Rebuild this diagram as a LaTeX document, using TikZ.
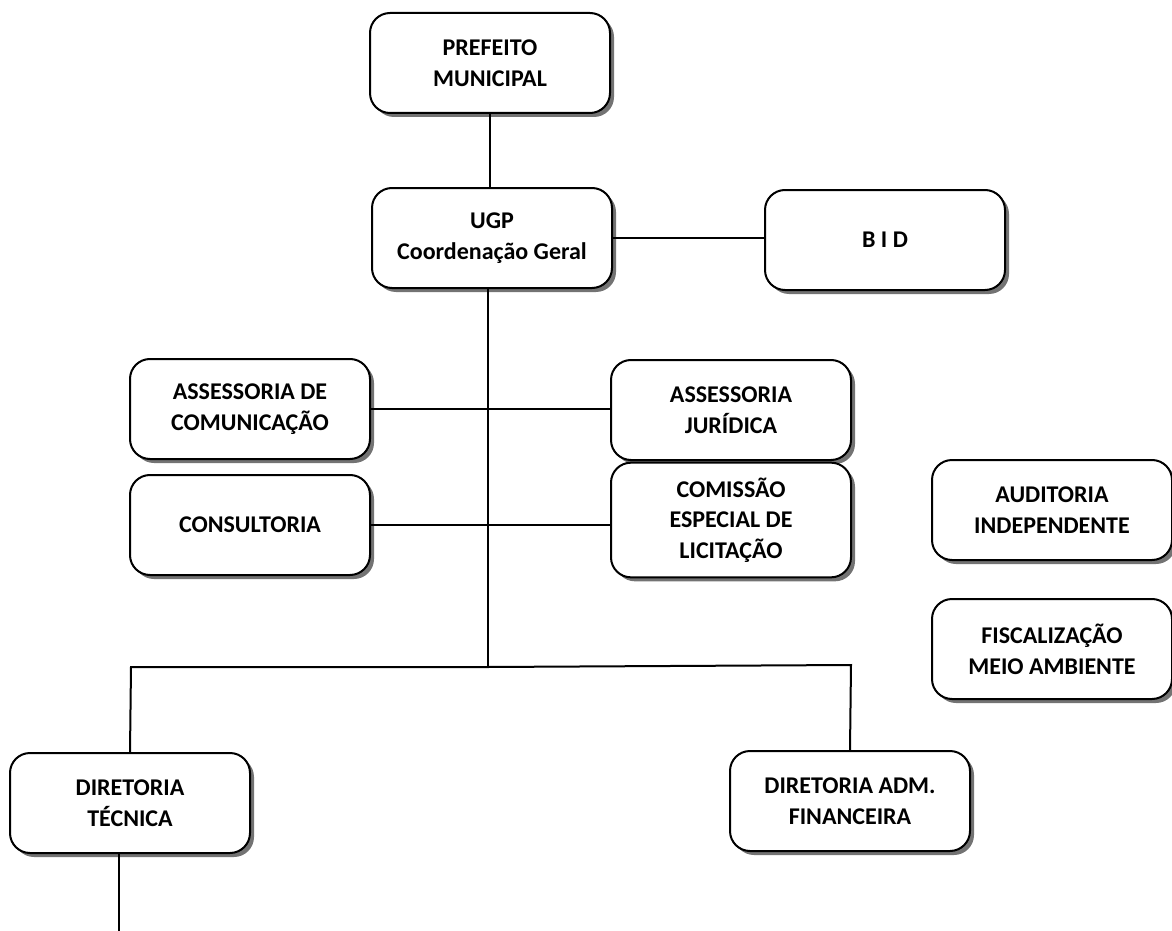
\documentclass[tikz,border=0pt]{standalone}
\usepackage{fontspec}
\setmainfont{Carlito}
\usepackage{tikz}
\usetikzlibrary{shadows, positioning}

\begin{document}
\begin{tikzpicture}[
        x=0.75pt, y=-0.75pt,
        box/.style={rectangle, draw, line width=1.5pt, rounded corners=15pt, fill=white,
            minimum width=180pt, minimum height=75pt, align=center,
            font=\fontsize{18}{23}\selectfont\bfseries,
            drop shadow={shadow xshift=3pt, shadow yshift=-3pt, fill=black!55, opacity=1}},
        line/.style={line width=1.5pt}
    ]
        \useasboundingbox (0,0) rectangle (1172,931);

        \node[box] (pref) at (490,63) {PREFEITO\\MUNICIPAL};
        \node[box] (ugp) at (492,238) {UGP\\Coordenação Geral};
        \node[box] (bid) at (885,240) {B I D};
        \node[box] (acom) at (250,409) {ASSESSORIA DE\\COMUNICAÇÃO};
        \node[box] (ajur) at (731,410) {ASSESSORIA\\JURÍDICA};
        \node[box] (cons) at (250,525) {CONSULTORIA};
        \node[box, minimum height=86pt] (com) at (731,520) {COMISSÃO\\ESPECIAL DE\\LICITAÇÃO};
        \node[box] (aud) at (1052,510) {AUDITORIA\\INDEPENDENTE};
        \node[box] (fisc) at (1052,649) {FISCALIZAÇÃO\\MEIO AMBIENTE};
        \node[box] (dtec) at (130,803) {DIRETORIA\\TÉCNICA};
        \node[box] (dadm) at (850,801) {DIRETORIA ADM.\\FINANCEIRA};

        \coordinate (bus) at (488,667);
        \coordinate (busl) at (131,667);
        \coordinate (busr) at (851,665);
        \coordinate (tecend) at (119,931);

        \draw[line] (pref.south) -- (pref.south |- ugp.north);
        \draw[line] (ugp.east) -- (ugp.east -| bid.west);
        \draw[line] (ugp.south -| bus) -- (bus);
        \draw[line] (acom.east) -- (acom.east -| ajur.west);
        \draw[line] (cons.east) -- (cons.east -| com.west);
        \draw[line] (dtec.north) -- (busl) -- (bus) -- (busr) -- (dadm.north);
        \draw[line] (tecend |- dtec.south) -- (tecend);
    \end{tikzpicture}
\end{document}
